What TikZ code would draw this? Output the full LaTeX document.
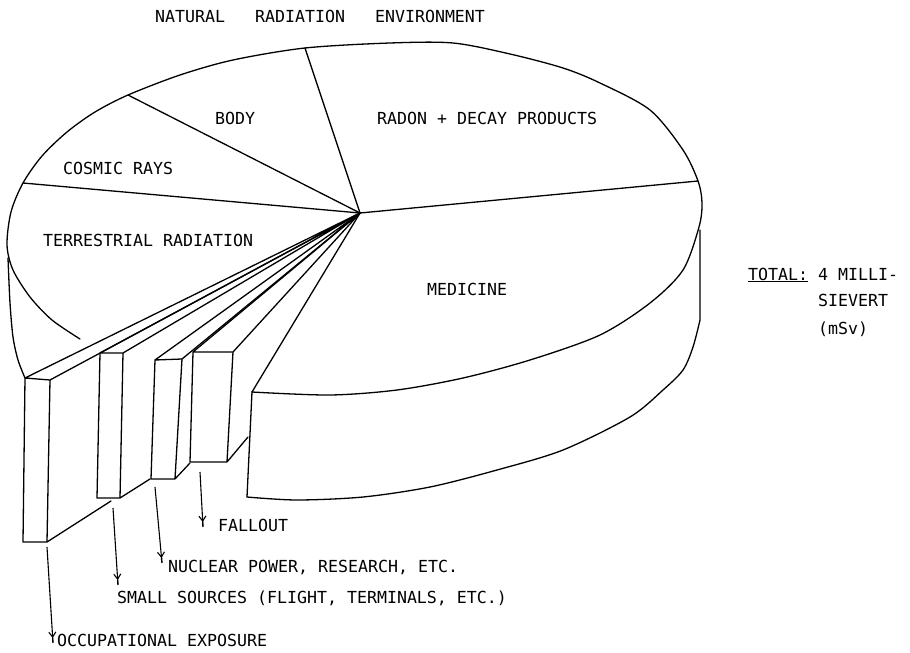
\documentclass[tikz,border=0pt]{standalone}
\usepackage{fontspec}
\setmonofont{DejaVu Sans Mono}
\usetikzlibrary{arrows.meta}

\begin{document}
\begin{tikzpicture}[x=1pt,y=-1pt,
    pen/.style={line width=1.3pt,line join=round,line cap=round},
    lbl/.style={font=\ttfamily\fontsize{16.6}{20}\selectfont,inner sep=0pt,
      text height=12pt,text depth=0pt,anchor=west},
    leader/.style={line width=1.1pt,
      -{Straight Barb[length=5pt,width=7pt]Rectangle[length=5pt,width=0.8pt]}}]
  \useasboundingbox (0,0) rectangle (910,653);
  % hub and slice borders on the rim
  \coordinate (c) at (360,213);
  \coordinate (r1) at (698,181);
  \coordinate (r2) at (305,48);
  \coordinate (r3) at (128,95);
  \coordinate (r4) at (23,183);
  \coordinate (mt) at (252,392);
  \coordinate (mb) at (247,497);
  % top of the disc
  \draw[pen] plot[smooth] coordinates {(80,339) (52,320) (30,297) (13,270)
    (7,245) (11,212) (23,183) (42,156) (67,132) (95,112) (128,95)
    (180,75) (233,60) (305,48) (390,43) (453,43) (510,54) (563,68) (600,83)
    (650,110) (683,150) (698,181) (702,203) (699,227) (683,270) (650,303)
    (600,335) (530,360) (463,378) (397,390) (330,395) (252,392)};
  % side of the disc
  \draw[pen] plot[smooth] coordinates {(8,258) (10,303) (13,337) (18,360) (25,378)};
  \draw[pen] (mt) -- (mb);
  \draw[pen] plot[smooth] coordinates {(247,497) (297,500) (363,497) (430,487)
    (497,470) (563,450) (630,417) (663,390) (683,370) (693,347) (700,320)}
    -- (700,230);
  \foreach \p in {r1,r2,r3,r4,mt}
    \draw[pen] (c) -- (\p);

  % pulled out slabs
  \coordinate (occTL) at (25,378);  \coordinate (occTR) at (50,380);
  \coordinate (occBL) at (23,542);  \coordinate (occBR) at (47,542);
  \coordinate (occBk) at (111,501);
  \coordinate (smlTL) at (100,353); \coordinate (smlTR) at (123,353);
  \coordinate (smlBL) at (97,498);  \coordinate (smlBR) at (120,498);
  \coordinate (smlBk) at (150,479);
  \coordinate (nucTL) at (155,360); \coordinate (nucTR) at (182,359);
  \coordinate (nucBL) at (151,479); \coordinate (nucBR) at (175,479);
  \coordinate (nucBk) at (190,463);
  \coordinate (falTL) at (193,352); \coordinate (falTR) at (233,352);
  \coordinate (falBL) at (190,462); \coordinate (falBR) at (227,462);
  \coordinate (falBk) at (248,437);
  \foreach \s in {occ,sml,nuc,fal}
    \draw[pen] (c) -- (\s TL) -- (\s BL) -- (\s BR) -- (\s TR) -- cycle
      (\s TL) -- (\s TR) (\s BR) -- (\s Bk);

  % labels
  \node[lbl] (title) at (155,16) {NATURAL\ \ \ RADIATION\ \ \ ENVIRONMENT};
  \node[lbl] (body) at (215,118) {BODY};
  \node[lbl] (cosmic) at (63,168) {COSMIC RAYS};
  \node[lbl] (terr) at (43,240) {TERRESTRIAL RADIATION};
  \node[lbl] (radon) at (377,118) {RADON + DECAY PRODUCTS};
  \node[lbl] (med) at (427,289) {MEDICINE};
  \node[lbl] (total) at (748,274) {\underline{TOTAL:} 4 MILLI-};
  \node[lbl] (sv) at (818,300) {SIEVERT};
  \node[lbl] (msv) at (818,328) {(mSv)};
  \node[lbl] (fall) at (218,525) {FALLOUT};
  \node[lbl] (nuc) at (168,566) {NUCLEAR POWER, RESEARCH, ETC.};
  \node[lbl] (small) at (117,597) {SMALL SOURCES (FLIGHT, TERMINALS, ETC.)};
  \node[lbl] (occ) at (57,640) {OCCUPATIONAL EXPOSURE};

  % leaders
  \coordinate (fallA) at (200,472);  \coordinate (fallB) at (203,527);
  \coordinate (nucA) at (155,487);   \coordinate (nucB) at (162,563);
  \coordinate (smallA) at (113,508); \coordinate (smallB) at (118,585);
  \coordinate (occA) at (47,547);    \coordinate (occB) at (53,643);
  \foreach \s in {fall,nuc,small,occ}
    \draw[leader] (\s A) -- (\s B);
\end{tikzpicture}
\end{document}
